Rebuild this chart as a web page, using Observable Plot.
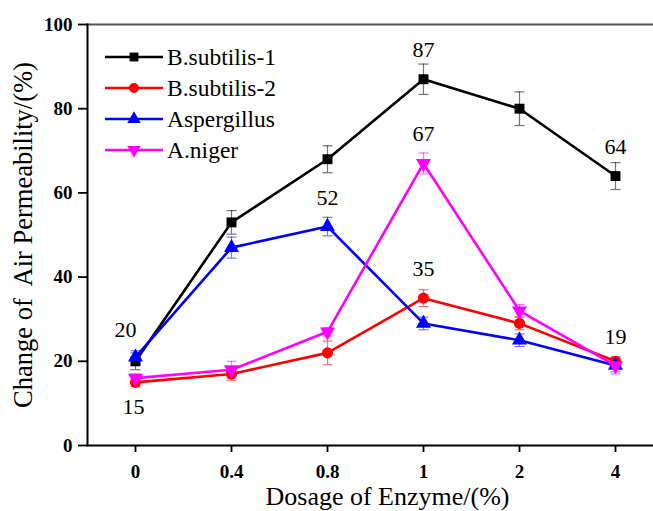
<!DOCTYPE html>
<html>
<head>
<meta charset="utf-8">
<script src="https://cdn.jsdelivr.net/npm/d3@7"></script>
<script src="https://cdn.jsdelivr.net/npm/@observablehq/plot@0.6"></script>
<style>
  html, body { margin: 0; padding: 0; background: #fff; }
  #wrap { position: relative; width: 653px; height: 511px; font-family: 'Liberation Serif', serif; }
  svg text { white-space: pre; }
  #legend { position: absolute; left: 0; top: 0; pointer-events: none; }
</style>
</head>
<body>
<div id="wrap"></div>
<script>
// ---- data ----
const doses = ["0", "0.4", "0.8", "1", "2", "4"];
const seriesNames = ["B.subtilis-1", "B.subtilis-2", "Aspergillus", "A.niger"];
const seriesColors = ["#000000", "#ff0000", "#0000ff", "#ff00ff"];
const seriesSymbols = ["square", "circle", "triangle", "triangle"];
const seriesRotate = [0, 0, 0, 180];

const bSubtilis1 = [20, 53, 68, 87, 80, 64];
const bSubtilis1Err = [2, 2.8, 3.2, 3.6, 4, 3.2];
const bSubtilis2 = [15, 17, 22, 35, 29, 20];
const bSubtilis2Err = [1, 1.5, 2.8, 2, 1.5, 1];
const aspergillus = [21, 47, 52, 29, 25, 19];
const aspergillusErr = [1.5, 2.5, 2.2, 1.5, 1.5, 1.5];
const aNiger = [16, 18, 27, 67, 32, 19];
const aNigerErr = [1, 2, 1, 2.5, 1.5, 2];

const yTicks = [0, 20, 40, 60, 80, 100];

// value annotations
const annotDose = ["0", "0.8", "1", "1", "1", "4", "4"];
const annotValue = [20, 52, 87, 67, 35, 64, 19];
const belowDose = ["0"];
const belowValue = [15];

const yTitle = "Change of  Air Permeability/(%)";
const xTitle = "Dosage of Enzyme/(%)";

// ---- build table ----
const allValues = [bSubtilis1, bSubtilis2, aspergillus, aNiger];
const allErrs = [bSubtilis1Err, bSubtilis2Err, aspergillusErr, aNigerErr];
const rows = [];
seriesNames.forEach((s, si) => {
  doses.forEach((d, di) => {
    rows.push({series: s, dose: d, value: allValues[si][di], err: allErrs[si][di], rot: seriesRotate[si]});
  });
});
const annots = annotDose.map((d, i) => ({dose: d, value: annotValue[i]}));
const annotsLeft = annots.filter(a => a.dose === "0");
const annotsRest = annots.filter(a => a.dose !== "0");
const annotsBelow = belowDose.map((d, i) => ({dose: d, value: belowValue[i]}));

const font = "Liberation Serif";

// horizontal cap symbol for error bars
const capSymbol = {draw(ctx) { ctx.moveTo(-5, 0); ctx.lineTo(5, 0); }};

const chart = Plot.plot({
  width: 653,
  height: 511,
  marginLeft: 87,
  marginRight: 0,
  marginTop: 24,
  marginBottom: 66,
  style: {fontFamily: font, color: "#000", background: "#fff"},
  x: {type: "point", domain: doses, range: [135, 615], padding: 0},
  y: {domain: [0, 100]},
  color: {domain: seriesNames, range: seriesColors},
  symbol: {domain: seriesNames, range: seriesSymbols},
  marks: [
    Plot.frame({anchor: "top", stroke: "#555", strokeWidth: 2}),
    Plot.axisY({ticks: yTicks, tickSize: 9, tickPadding: 6, fontSize: 19, fontWeight: "bold", fontFamily: font, strokeWidth: 1.8, label: null}),
    Plot.axisX({tickSize: 7, tickPadding: 12, fontSize: 19, fontWeight: "bold", fontFamily: font, strokeWidth: 1.8, label: null}),
    Plot.frame({anchor: "left", stroke: "#000", strokeWidth: 2}),
    Plot.frame({anchor: "bottom", stroke: "#000", strokeWidth: 2}),
    // error bars
    Plot.ruleX(rows, {x: "dose", y1: d => d.value - d.err, y2: d => d.value + d.err, stroke: "series", strokeOpacity: 0.55, strokeWidth: 1.2}),
    Plot.dot(rows, {x: "dose", y: d => d.value - d.err, symbol: capSymbol, stroke: "series", fill: "none", strokeOpacity: 0.55, strokeWidth: 1.2}),
    Plot.dot(rows, {x: "dose", y: d => d.value + d.err, symbol: capSymbol, stroke: "series", fill: "none", strokeOpacity: 0.55, strokeWidth: 1.2}),
    // lines + markers
    Plot.line(rows, {x: "dose", y: "value", z: "series", stroke: "series", strokeWidth: 2.6}),
    Plot.dot(rows, {x: "dose", y: "value", symbol: "series", fill: "series", stroke: "none", r: 5.6, rotate: "rot"}),
    // annotations
    Plot.text(annotsRest, {x: "dose", y: "value", text: d => String(d.value), dy: -29, fontSize: 22, fontFamily: font}),
    Plot.text(annotsLeft, {x: "dose", y: "value", text: d => String(d.value), dy: -31, dx: -10, fontSize: 22, fontFamily: font}),
    Plot.text(annotsBelow, {x: "dose", y: "value", text: d => String(d.value), dy: 25, dx: -2, fontSize: 22, fontFamily: font}),
    // titles
    Plot.text([yTitle], {text: d => d, frameAnchor: "left", textAnchor: "middle", lineAnchor: "middle", rotate: -90, dx: -64, fontSize: 26.5, fontFamily: font}),
    Plot.text([xTitle], {text: d => d, frameAnchor: "bottom", textAnchor: "middle", lineAnchor: "middle", dx: 17, dy: 51, fontSize: 26, fontFamily: font})
  ]
});
document.getElementById("wrap").appendChild(chart);

// ---- legend overlay ----
const leg = d3.select("#wrap").append("svg").attr("id", "legend")
  .attr("width", 300).attr("height", 180);
const symMap = {square: d3.symbolSquare, circle: d3.symbolCircle, triangle: d3.symbolTriangle};
seriesNames.forEach((s, i) => {
  const g = leg.append("g").attr("transform", `translate(0,${57 + i * 31})`);
  g.append("line").attr("x1", 105).attr("x2", 163).attr("y1", 0).attr("y2", 0)
    .attr("stroke", seriesColors[i]).attr("stroke-width", 2.6);
  g.append("path")
    .attr("d", d3.symbol(symMap[seriesSymbols[i]], Math.PI * 5 * 5)())
    .attr("transform", `translate(134,0) rotate(${seriesRotate[i]})`)
    .attr("fill", seriesColors[i]);
  g.append("text").attr("x", 167).attr("y", 0).attr("dy", "0.34em")
    .attr("font-family", font).attr("font-size", 23.5).attr("fill", "#000")
    .text(s);
});
</script>
</body>
</html>
